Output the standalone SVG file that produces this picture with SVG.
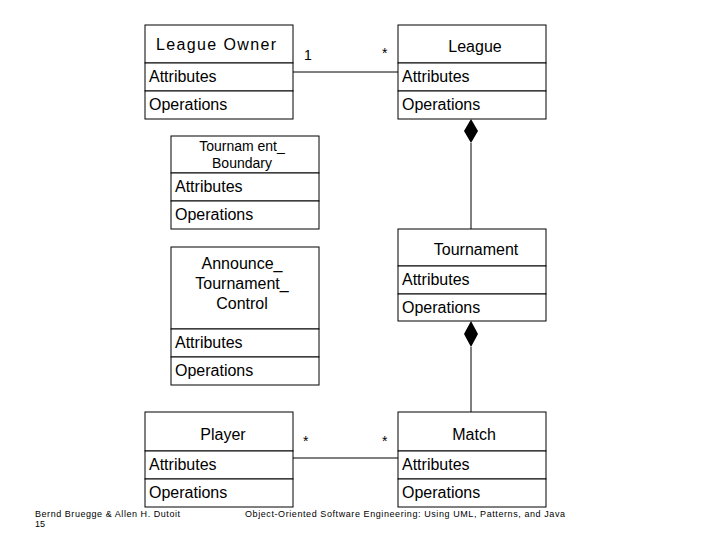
<svg xmlns="http://www.w3.org/2000/svg" width="720" height="540" viewBox="0 0 720 540">
<style>
rect{fill:#fff;stroke:#000;stroke-width:1}
text{font-family:"Liberation Sans",Arial,sans-serif;font-size:16px;fill:#000}
.c{text-anchor:middle}
.f{font-size:9px}
line,polyline{stroke:#000;stroke-width:1;fill:none}
</style>
<rect x="0" y="0" width="720" height="540" style="stroke:none"/>
<g id="connectors">
<line x1="293" y1="72" x2="398" y2="72"/>
<text x="304" y="60" style="font-size:14px">1</text><text x="382" y="58" style="font-size:14px">*</text>
<line x1="471" y1="143" x2="471" y2="229"/>
<polygon points="471,119 478,131 471,143 464,131" fill="#000"/>
<line x1="471" y1="347" x2="471" y2="412"/>
<polygon points="471,321 478,334 471,347 464,334" fill="#000"/>
<line x1="293" y1="458" x2="398" y2="458"/>
<text x="303" y="446" style="font-size:14px">*</text><text x="382" y="446" style="font-size:14px">*</text>
</g>
<g id="leagueOwner">
<rect x="145" y="25" width="148" height="38"/><rect x="145" y="63" width="148" height="28"/><rect x="145" y="91" width="148" height="28"/>
<text x="216" y="50" class="c" textLength="120">League  Owner</text><text x="149" y="82">Attributes</text><text x="149" y="110">Operations</text>
</g>
<g id="league">
<rect x="398" y="25" width="148" height="38"/><rect x="398" y="63" width="148" height="28"/><rect x="398" y="91" width="148" height="28"/>
<text x="475" y="52" class="c">League</text><text x="402" y="82">Attributes</text><text x="402" y="110">Operations</text>
</g>
<g id="tournamentBoundary">
<rect x="171" y="136" width="148" height="37"/><rect x="171" y="173" width="148" height="28"/><rect x="171" y="201" width="148" height="28"/>
<text x="242" y="151" class="c" style="font-size:14px">Tournam ent_</text><text x="242" y="168" class="c" style="font-size:14px">Boundary</text>
<text x="175" y="192">Attributes</text><text x="175" y="220">Operations</text>
</g>
<g id="tournament">
<rect x="398" y="229" width="148" height="37"/><rect x="398" y="266" width="148" height="28"/><rect x="398" y="294" width="148" height="27"/>
<text x="476" y="255" class="c">Tournament</text><text x="402" y="285">Attributes</text><text x="402" y="313">Operations</text>
</g>
<g id="announce">
<rect x="171" y="247" width="148" height="82"/><rect x="171" y="329" width="148" height="28"/><rect x="171" y="357" width="148" height="28"/>
<text x="242" y="269" class="c">Announce_</text><text x="242" y="289" class="c">Tournament_</text><text x="242" y="309" class="c">Control</text>
<text x="175" y="348">Attributes</text><text x="175" y="376">Operations</text>
</g>
<g id="player">
<rect x="145" y="412" width="148" height="39"/><rect x="145" y="451" width="148" height="28"/><rect x="145" y="479" width="148" height="28"/>
<text x="223" y="440" class="c">Player</text><text x="149" y="470">Attributes</text><text x="149" y="498">Operations</text>
</g>
<g id="match">
<rect x="398" y="412" width="148" height="39"/><rect x="398" y="451" width="148" height="28"/><rect x="398" y="479" width="148" height="28"/>
<text x="474" y="440" class="c">Match</text><text x="402" y="470">Attributes</text><text x="402" y="498">Operations</text>
</g>
<text x="35" y="517" class="f" textLength="145">Bernd Bruegge &amp; Allen H. Dutoit</text>
<text x="35" y="527" class="f">15</text>
<text x="245" y="517" class="f" textLength="320">Object-Oriented Software Engineering: Using UML, Patterns, and Java</text>
</svg>
